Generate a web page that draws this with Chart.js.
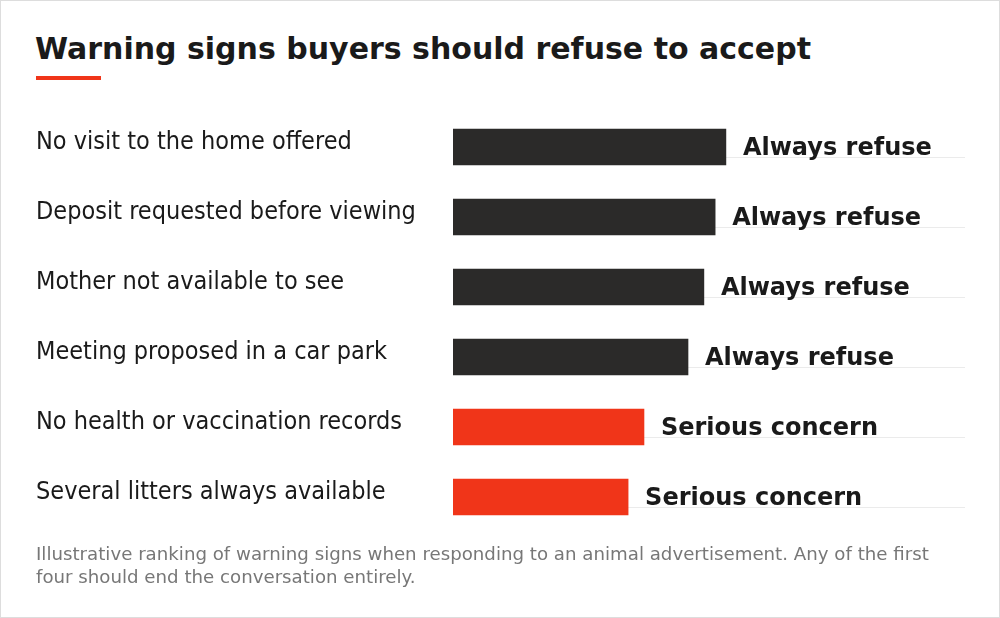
<!DOCTYPE html>
<html><head><meta charset="utf-8">
<script src="https://cdn.jsdelivr.net/npm/chart.js@4/dist/chart.umd.min.js"></script>
<style>
html,body{margin:0;padding:0;background:#fff;}
#wrap{position:relative;width:998px;height:616px;border:1px solid #ddd;font-family:"DejaVu Sans",sans-serif;}
h1{position:absolute;left:34px;top:30px;margin:0;font-size:30px;font-weight:bold;color:#1a1a1a;}
#bar{position:absolute;left:35px;top:75px;width:65px;height:4px;background:#f03519;}
#note{position:absolute;left:35px;top:541px;width:910px;font-size:18.2px;line-height:23px;color:#777;}
#cv{position:absolute;left:0;top:0;}
</style></head><body>
<div id="wrap">
<h1>Warning signs buyers should refuse to accept</h1>
<div id="bar"></div>
<canvas id="cv" width="998" height="616"></canvas>
<div id="note">Illustrative ranking of warning signs when responding to an animal advertisement. Any of the first four should end the conversation entirely.</div>
</div>
<script>
const categories=["No visit to the home offered","Deposit requested before viewing","Mother not available to see","Meeting proposed in a car park","No health or vaccination records","Several litters always available"];
const values=[53.3,51.2,49.0,45.9,37.3,34.2];
const verdicts=["Always refuse","Always refuse","Always refuse","Always refuse","Serious concern","Serious concern"];
const colors=values.map((v,i)=>verdicts[i]==="Always refuse"?"#2b2a29":"#f03519");

const deco={id:'deco',
 beforeDatasetsDraw(c){const ctx=c.ctx,x=c.scales.x,y=c.scales.y;ctx.save();ctx.strokeStyle='#ebebeb';ctx.lineWidth=1;
  categories.forEach((_,i)=>{const yy=Math.round(y.getPixelForValue(i)+10)+0.5;ctx.beginPath();ctx.moveTo(x.left,yy);ctx.lineTo(x.right,yy);ctx.stroke();});ctx.restore();},
 afterDatasetsDraw(c){const ctx=c.ctx,y=c.scales.y,meta=c.getDatasetMeta(0);ctx.save();
  ctx.textBaseline='middle';
  categories.forEach((cat,i)=>{const yc=y.getPixelForValue(i);
   ctx.font='25px "DejaVu Sans Condensed","DejaVu Sans"';ctx.fillStyle='#1a1a1a';ctx.textAlign='left';ctx.fillText(cat,35,yc-5);
   ctx.font='bold 24px "DejaVu Sans"';ctx.fillText(verdicts[i],meta.data[i].x+17,yc+2);});
  ctx.restore();}};

new Chart(document.getElementById('cv'),{type:'bar',
 data:{labels:categories,datasets:[{data:values,backgroundColor:colors,barThickness:36}]},
 options:{indexAxis:'y',responsive:false,animation:false,devicePixelRatio:1,
  layout:{padding:{left:452,right:34,top:111,bottom:85}},
  plugins:{legend:{display:false},tooltip:{enabled:false}},
  scales:{x:{display:false,min:0,max:100},y:{display:false}}},
 plugins:[deco]});
</script>
</body></html>
